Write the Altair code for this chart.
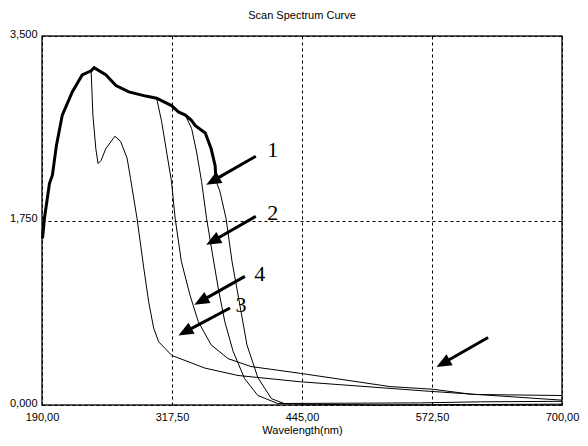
import altair as alt
import pandas as pd

# ---- data (wavelength in nm, absorbance) ----
# shared noisy envelope
env_wl = [190.5, 192.4, 197.3, 200.2, 204.1, 209.9, 219.7, 229.4, 238.2, 241.1, 252.8, 262.5,
          275.2, 291.7, 302.4, 317.0, 323.8, 330.6, 336.5, 340.4, 350.1, 355.9]
env_ab = [1.58, 1.77, 2.10, 2.18, 2.46, 2.75, 2.97, 3.13, 3.17, 3.20, 3.13, 3.03,
          2.97, 2.93, 2.91, 2.84, 2.78, 2.75, 2.70, 2.65, 2.58, 2.43]

# where each curve leaves the envelope
branch_wl = {"1": 355.9, "2": 330.6, "3": 238.2, "4": 302.4}

c1_wl = [359.8, 360.8, 364.4, 370.5, 376.4, 385.5, 391.0, 401.7, 415.0, 428.0, 445.0, 520.0, 600.0, 700.0]
c1_ab = [2.27, 2.12, 2.03, 1.77, 1.36, 0.87, 0.57, 0.26, 0.06, 0.012, 0.008, 0.0, 0.004, 0.008]

c2_wl = [336.8, 341.6, 346.5, 351.4, 356.7, 362.8, 369.3, 377.4, 388.7, 401.7, 421.2, 445.0, 560.0, 620.0, 700.0]
c2_ab = [2.62, 2.40, 2.12, 1.77, 1.46, 1.11, 0.79, 0.51, 0.25, 0.09, 0.014, 0.015, 0.02, 0.03, 0.035]

c3_wl = [239.9, 242.8, 245.0, 248.0, 252.5, 261.5, 267.1, 273.5, 276.8, 283.2, 289.8, 294.6,
         299.5, 304.4, 317.3, 349.8, 382.2, 443.8, 570.1, 700.0]
c3_ab = [2.75, 2.43, 2.29, 2.32, 2.43, 2.55, 2.50, 2.34, 2.15, 1.77, 1.30, 0.98,
         0.73, 0.60, 0.47, 0.35, 0.28, 0.22, 0.13, 0.046]

c4_wl = [307.3, 312.2, 317.0, 320.6, 326.7, 335.2, 343.3, 355.9, 372.5, 394.9, 421.2, 443.5,
         531.1, 572.7, 612.6, 700.0]
c4_ab = [2.69, 2.40, 2.12, 1.77, 1.36, 1.04, 0.79, 0.57, 0.44, 0.365, 0.33, 0.30,
         0.175, 0.15, 0.10, 0.09]

# annotations: arrow start (wl, ab) -> arrow tip (wl, ab), labels
arrow_x = [399.7, 399.7, 389.0, 374.4, 627.5]
arrow_y = [2.36, 1.79, 1.22, 0.92, 0.64]
arrow_x2 = [351.1, 351.1, 339.4, 323.8, 576.9]
arrow_y2 = [2.09, 1.52, 0.95, 0.66, 0.36]
label_text = ["1", "2", "4", "3"]
label_x = [416.3, 416.3, 403.6, 385.1]
label_y = [2.42, 1.82, 1.24, 0.95]

x_ticks = [190, 317.5, 445, 572.5, 700]
y_ticks = [0, 1.75, 3.5]

# ---- build tables ----
rows = []
drops = {"1": (c1_wl, c1_ab), "2": (c2_wl, c2_ab), "3": (c3_wl, c3_ab), "4": (c4_wl, c4_ab)}
for name, (dw, da) in drops.items():
    for w, a in zip(env_wl, env_ab):
        if w <= branch_wl[name]:
            rows.append({"curve": name, "wl": w, "ab": a})
    for w, a in zip(dw, da):
        rows.append({"curve": name, "wl": w, "ab": a})
curves = pd.DataFrame(rows)
env = pd.DataFrame({"wl": env_wl + c1_wl[:2], "ab": env_ab + c1_ab[:2]})

head_frac = 0.22
arrows = pd.DataFrame({"x": arrow_x, "y": arrow_y, "x2": arrow_x2, "y2": arrow_y2})
arrows["xs"] = arrows["x2"] + head_frac * (arrows["x"] - arrows["x2"])
arrows["ys"] = arrows["y2"] + head_frac * (arrows["y"] - arrows["y2"])
labels = pd.DataFrame({"t": label_text, "x": label_x, "y": label_y})

FONT = "Liberation Sans"
xscale = alt.Scale(domain=[190, 700], nice=False, zero=False)
yscale = alt.Scale(domain=[0, 3.5], nice=False, zero=False)

xaxis = alt.Axis(values=x_ticks, labelExpr="replace(format(datum.value, '.2f'), '.', ',')",
                 grid=True, gridDash=[3, 3], gridColor="black", gridWidth=1, gridOpacity=1,
                 ticks=False, domain=False, labelFlush=False, labelPadding=6,
                 labelFont=FONT, labelFontSize=11, labelColor="black",
                 title="Wavelength(nm)", titleFont=FONT, titleFontSize=11,
                 titleFontWeight="normal", titleColor="black", titlePadding=2)
yaxis = alt.Axis(values=y_ticks, labelExpr="replace(format(datum.value, '.3f'), '.', ',')",
                 grid=True, gridDash=[3, 3], gridColor="black", gridWidth=1, gridOpacity=1,
                 ticks=False, domain=False, labelFlush=False, labelPadding=5, labelOffset=-2,
                 labelFont=FONT, labelFontSize=11, labelColor="black", title=None)

lines = alt.Chart(curves).mark_line(color="black", strokeWidth=1).encode(
    x=alt.X("wl:Q", scale=xscale, axis=xaxis),
    y=alt.Y("ab:Q", scale=yscale, axis=yaxis),
    detail="curve:N",
)
noisy = alt.Chart(env).mark_line(color="black", strokeWidth=3).encode(
    x=alt.X("wl:Q", scale=xscale), y=alt.Y("ab:Q", scale=yscale)
)
shafts = alt.Chart(arrows).mark_rule(color="black", strokeWidth=3).encode(
    x="x:Q", y="y:Q", x2="xs:Q", y2="ys:Q"
)
heads = alt.Chart(arrows).mark_point(
    shape="M0,0 L-0.42,1 L0.42,1 Z", filled=True, color="black", opacity=1,
    size=900, angle=241, strokeWidth=0
).encode(x="x2:Q", y="y2:Q")
texts = alt.Chart(labels).mark_text(
    font="Liberation Serif", fontSize=22, color="black", align="center", baseline="middle"
).encode(x="x:Q", y="y:Q", text="t:N")

chart = alt.layer(lines, noisy, shafts, heads, texts).properties(
    width=520, height=369,
    title=alt.TitleParams("Scan Spectrum Curve", font=FONT, fontSize=11, fontWeight="normal",
                          color="black", anchor="middle", frame="group", offset=7),
    autosize=alt.AutoSizeParams(type="none"),
    padding={"left": 34, "top": 28, "right": 18, "bottom": 33},
).configure_view(stroke="#222222", strokeWidth=1.5)

chart.save("out.html", embed_options={"renderer": "svg", "actions": False})
